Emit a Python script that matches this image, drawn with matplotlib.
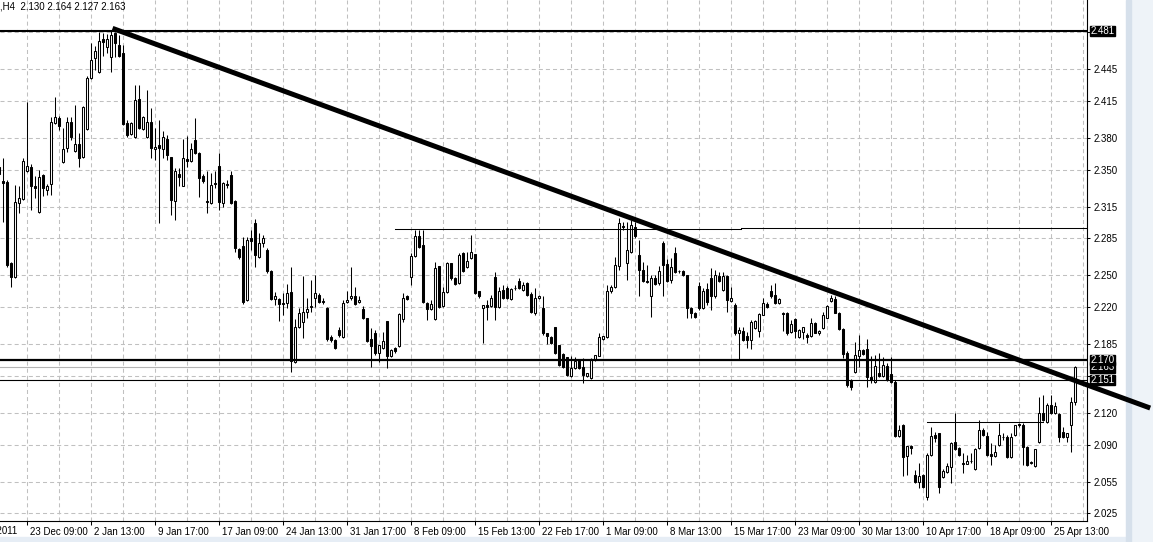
import matplotlib
matplotlib.use("Agg")
import matplotlib.pyplot as plt
import matplotlib.transforms as mtransforms
import numpy as np

plt.rcParams['font.family'] = ['Liberation Sans', 'DejaVu Sans']
plt.rcParams['lines.scale_dashes'] = False

# H4 bars, oldest first (the first bar is half cut by the left edge)
opens = [2.352, 2.339, 2.338, 2.262, 2.248, 2.318, 2.322, 2.349, 2.352, 2.334,
         2.310, 2.345, 2.331, 2.336, 2.394, 2.399, 2.357, 2.370, 2.395, 2.368,
         2.374, 2.362, 2.388, 2.437, 2.455, 2.442, 2.473, 2.466, 2.456, 2.479,
         2.468, 2.460, 2.394, 2.384, 2.381, 2.417, 2.388, 2.381, 2.395, 2.369,
         2.373, 2.369, 2.379, 2.362, 2.320, 2.346, 2.334, 2.360, 2.358, 2.378,
         2.366, 2.344, 2.320, 2.318, 2.337, 2.353, 2.318, 2.336, 2.345, 2.320,
         2.275, 2.278, 2.227, 2.285, 2.299, 2.267, 2.281, 2.274, 2.254, 2.228,
         2.228, 2.224, 2.224, 2.234, 2.168, 2.201, 2.206, 2.215, 2.220, 2.229,
         2.231, 2.226, 2.219, 2.192, 2.189, 2.198, 2.192, 2.225, 2.229, 2.230,
         2.225, 2.218, 2.210, 2.190, 2.195, 2.177, 2.181, 2.207, 2.174, 2.181,
         2.183, 2.209, 2.230, 2.248, 2.268, 2.287, 2.279, 2.224, 2.218, 2.209,
         2.259, 2.221, 2.234, 2.262, 2.247, 2.243, 2.271, 2.258, 2.266, 2.270,
         2.235, 2.219, 2.222, 2.221, 2.248, 2.220, 2.236, 2.238, 2.228, 2.238,
         2.245, 2.236, 2.243, 2.232, 2.214, 2.229, 2.219, 2.195, 2.192, 2.201,
         2.184, 2.176, 2.173, 2.155, 2.162, 2.170, 2.163, 2.155, 2.153, 2.171,
         2.174, 2.190, 2.192, 2.235, 2.239, 2.259, 2.297, 2.262, 2.272, 2.296,
         2.269, 2.255, 2.245, 2.230, 2.247, 2.243, 2.281, 2.261, 2.246, 2.271,
         2.254, 2.254, 2.250, 2.219, 2.214, 2.240, 2.219, 2.237, 2.247, 2.230,
         2.249, 2.236, 2.249, 2.226, 2.222, 2.195, 2.197, 2.193, 2.189, 2.200,
         2.197, 2.212, 2.223, 2.235, 2.231, 2.224, 2.214, 2.214, 2.196, 2.209,
         2.192, 2.196, 2.194, 2.193, 2.205, 2.195, 2.200, 2.210, 2.226, 2.228,
         2.214, 2.199, 2.177, 2.151, 2.159, 2.174, 2.179, 2.180, 2.154, 2.149,
         2.158, 2.155, 2.164, 2.157, 2.149, 2.098, 2.108, 2.079, 2.089, 2.061,
         2.055, 2.061, 2.040, 2.080, 2.099, 2.101, 2.059, 2.064, 2.069, 2.092,
         2.087, 2.073, 2.072, 2.074, 2.067, 2.087, 2.104, 2.098, 2.081, 2.079,
         2.090, 2.097, 2.097, 2.078, 2.099, 2.109, 2.108, 2.088, 2.073, 2.070,
         2.092, 2.120, 2.111, 2.127, 2.120, 2.119, 2.102, 2.097, 2.108, 2.130]
highs = [2.354, 2.361, 2.340, 2.263, 2.335, 2.334, 2.361, 2.414, 2.355, 2.344,
         2.350, 2.346, 2.336, 2.400, 2.419, 2.401, 2.389, 2.400, 2.400, 2.411,
         2.385, 2.410, 2.438, 2.470, 2.467, 2.480, 2.479, 2.478, 2.481, 2.480,
         2.477, 2.468, 2.397, 2.395, 2.430, 2.430, 2.401, 2.425, 2.408, 2.389,
         2.397, 2.386, 2.383, 2.362, 2.351, 2.351, 2.379, 2.382, 2.375, 2.399,
         2.367, 2.346, 2.349, 2.347, 2.349, 2.366, 2.338, 2.340, 2.349, 2.321,
         2.276, 2.286, 2.286, 2.293, 2.303, 2.290, 2.288, 2.276, 2.255, 2.234,
         2.229, 2.233, 2.242, 2.258, 2.209, 2.219, 2.249, 2.229, 2.246, 2.250,
         2.233, 2.229, 2.220, 2.194, 2.190, 2.201, 2.227, 2.235, 2.258, 2.239,
         2.230, 2.221, 2.210, 2.200, 2.198, 2.184, 2.196, 2.207, 2.180, 2.182,
         2.214, 2.233, 2.231, 2.271, 2.293, 2.293, 2.293, 2.225, 2.227, 2.263,
         2.259, 2.239, 2.263, 2.262, 2.248, 2.271, 2.272, 2.272, 2.288, 2.270,
         2.235, 2.222, 2.227, 2.231, 2.253, 2.239, 2.241, 2.240, 2.238, 2.241,
         2.247, 2.244, 2.244, 2.234, 2.238, 2.231, 2.230, 2.195, 2.193, 2.201,
         2.184, 2.177, 2.173, 2.174, 2.173, 2.170, 2.172, 2.158, 2.172, 2.175,
         2.195, 2.193, 2.241, 2.241, 2.267, 2.304, 2.300, 2.300, 2.302, 2.300,
         2.283, 2.263, 2.260, 2.250, 2.250, 2.259, 2.282, 2.265, 2.266, 2.277,
         2.255, 2.255, 2.250, 2.220, 2.215, 2.244, 2.238, 2.243, 2.257, 2.255,
         2.253, 2.253, 2.250, 2.239, 2.224, 2.201, 2.201, 2.196, 2.208, 2.208,
         2.214, 2.229, 2.225, 2.241, 2.243, 2.229, 2.215, 2.215, 2.208, 2.210,
         2.199, 2.201, 2.195, 2.210, 2.206, 2.198, 2.215, 2.222, 2.231, 2.230,
         2.215, 2.200, 2.178, 2.152, 2.187, 2.194, 2.180, 2.190, 2.174, 2.175,
         2.177, 2.173, 2.167, 2.173, 2.151, 2.108, 2.109, 2.089, 2.090, 2.066,
         2.073, 2.062, 2.082, 2.107, 2.102, 2.101, 2.067, 2.073, 2.092, 2.120,
         2.088, 2.082, 2.080, 2.082, 2.087, 2.113, 2.106, 2.102, 2.091, 2.090,
         2.110, 2.101, 2.099, 2.101, 2.108, 2.110, 2.110, 2.089, 2.074, 2.086,
         2.135, 2.137, 2.129, 2.137, 2.130, 2.120, 2.107, 2.101, 2.135, 2.164]
lows = [2.344, 2.300, 2.258, 2.239, 2.247, 2.309, 2.321, 2.348, 2.312, 2.323,
        2.309, 2.325, 2.326, 2.326, 2.393, 2.387, 2.356, 2.367, 2.378, 2.367,
        2.352, 2.361, 2.387, 2.436, 2.444, 2.441, 2.457, 2.460, 2.442, 2.456,
        2.456, 2.392, 2.381, 2.383, 2.380, 2.388, 2.387, 2.380, 2.361, 2.359,
        2.299, 2.361, 2.359, 2.307, 2.302, 2.334, 2.334, 2.352, 2.357, 2.365,
        2.324, 2.337, 2.309, 2.317, 2.333, 2.312, 2.315, 2.333, 2.317, 2.272,
        2.265, 2.223, 2.226, 2.274, 2.258, 2.266, 2.277, 2.252, 2.227, 2.222,
        2.207, 2.212, 2.219, 2.159, 2.167, 2.200, 2.191, 2.210, 2.215, 2.220,
        2.224, 2.223, 2.188, 2.187, 2.180, 2.192, 2.191, 2.224, 2.227, 2.222,
        2.224, 2.209, 2.187, 2.163, 2.175, 2.168, 2.180, 2.162, 2.173, 2.177,
        2.182, 2.206, 2.227, 2.241, 2.267, 2.276, 2.224, 2.208, 2.217, 2.208,
        2.219, 2.220, 2.233, 2.246, 2.241, 2.242, 2.253, 2.257, 2.265, 2.232,
        2.229, 2.186, 2.208, 2.220, 2.208, 2.219, 2.228, 2.228, 2.227, 2.236,
        2.237, 2.235, 2.230, 2.214, 2.212, 2.228, 2.194, 2.185, 2.185, 2.176,
        2.164, 2.162, 2.155, 2.154, 2.161, 2.161, 2.148, 2.154, 2.152, 2.169,
        2.174, 2.189, 2.191, 2.233, 2.238, 2.255, 2.293, 2.246, 2.271, 2.285,
        2.230, 2.244, 2.243, 2.211, 2.241, 2.241, 2.230, 2.244, 2.243, 2.252,
        2.252, 2.249, 2.210, 2.210, 2.210, 2.217, 2.218, 2.222, 2.217, 2.229,
        2.244, 2.235, 2.215, 2.225, 2.194, 2.171, 2.188, 2.181, 2.180, 2.199,
        2.192, 2.212, 2.219, 2.229, 2.223, 2.223, 2.197, 2.194, 2.195, 2.191,
        2.191, 2.190, 2.186, 2.192, 2.195, 2.194, 2.199, 2.210, 2.225, 2.214,
        2.198, 2.172, 2.144, 2.142, 2.158, 2.163, 2.175, 2.144, 2.148, 2.148,
        2.154, 2.154, 2.150, 2.148, 2.097, 2.097, 2.060, 2.061, 2.081, 2.054,
        2.049, 2.049, 2.038, 2.079, 2.092, 2.044, 2.058, 2.063, 2.054, 2.085,
        2.079, 2.063, 2.072, 2.073, 2.066, 2.086, 2.098, 2.079, 2.071, 2.078,
        2.089, 2.094, 2.077, 2.077, 2.098, 2.107, 2.071, 2.070, 2.072, 2.069,
        2.091, 2.112, 2.110, 2.119, 2.119, 2.092, 2.096, 2.092, 2.083, 2.127]
closes = [2.346, 2.337, 2.260, 2.248, 2.319, 2.323, 2.358, 2.353, 2.334, 2.333,
          2.343, 2.333, 2.334, 2.395, 2.400, 2.391, 2.369, 2.395, 2.381, 2.374,
          2.361, 2.409, 2.437, 2.454, 2.462, 2.472, 2.471, 2.473, 2.477, 2.470,
          2.457, 2.393, 2.383, 2.394, 2.416, 2.389, 2.400, 2.395, 2.370, 2.371,
          2.370, 2.381, 2.364, 2.321, 2.349, 2.343, 2.361, 2.358, 2.369, 2.366,
          2.342, 2.339, 2.319, 2.335, 2.336, 2.319, 2.337, 2.335, 2.318, 2.276,
          2.267, 2.225, 2.283, 2.282, 2.269, 2.281, 2.285, 2.254, 2.228, 2.230,
          2.223, 2.223, 2.233, 2.169, 2.201, 2.214, 2.215, 2.218, 2.221, 2.233,
          2.225, 2.225, 2.190, 2.189, 2.181, 2.194, 2.224, 2.227, 2.230, 2.223,
          2.227, 2.210, 2.188, 2.183, 2.177, 2.184, 2.188, 2.174, 2.179, 2.178,
          2.213, 2.229, 2.228, 2.268, 2.287, 2.277, 2.225, 2.218, 2.223, 2.257,
          2.220, 2.234, 2.262, 2.247, 2.242, 2.269, 2.254, 2.264, 2.272, 2.233,
          2.230, 2.222, 2.220, 2.229, 2.220, 2.235, 2.229, 2.229, 2.237, 2.238,
          2.238, 2.241, 2.231, 2.215, 2.229, 2.230, 2.195, 2.193, 2.186, 2.177,
          2.165, 2.163, 2.156, 2.162, 2.169, 2.162, 2.156, 2.158, 2.171, 2.175,
          2.192, 2.193, 2.235, 2.239, 2.260, 2.299, 2.296, 2.274, 2.298, 2.287,
          2.255, 2.245, 2.244, 2.247, 2.242, 2.254, 2.260, 2.245, 2.258, 2.253,
          2.254, 2.250, 2.219, 2.214, 2.211, 2.219, 2.235, 2.225, 2.230, 2.250,
          2.245, 2.249, 2.227, 2.229, 2.195, 2.198, 2.189, 2.189, 2.206, 2.207,
          2.213, 2.224, 2.220, 2.230, 2.224, 2.228, 2.213, 2.195, 2.204, 2.197,
          2.198, 2.201, 2.192, 2.205, 2.195, 2.197, 2.212, 2.221, 2.229, 2.214,
          2.199, 2.176, 2.146, 2.144, 2.175, 2.179, 2.176, 2.154, 2.151, 2.164,
          2.155, 2.165, 2.151, 2.149, 2.098, 2.104, 2.078, 2.089, 2.087, 2.055,
          2.060, 2.050, 2.080, 2.098, 2.096, 2.050, 2.065, 2.070, 2.091, 2.086,
          2.080, 2.072, 2.074, 2.074, 2.086, 2.104, 2.099, 2.080, 2.079, 2.083,
          2.099, 2.097, 2.078, 2.097, 2.108, 2.108, 2.088, 2.071, 2.073, 2.086,
          2.120, 2.113, 2.127, 2.120, 2.126, 2.097, 2.097, 2.101, 2.130, 2.163]

date_labels = ["23 Dec 09:00", "2 Jan 13:00", "9 Jan 17:00", "17 Jan 09:00",
               "24 Jan 13:00", "31 Jan 17:00", "8 Feb 09:00", "15 Feb 13:00",
               "22 Feb 17:00", "1 Mar 09:00", "8 Mar 13:00", "15 Mar 17:00",
               "23 Mar 09:00", "30 Mar 13:00", "10 Apr 17:00", "18 Apr 09:00",
               "25 Apr 13:00"]
price_ticks = [2.480, 2.445, 2.415, 2.380, 2.350, 2.315, 2.285, 2.250,
               2.220, 2.185, 2.155, 2.120, 2.090, 2.055, 2.025]
# these two scale labels sit under the price markers
hidden_ticks = [2.480, 2.155]

# drawn objects
top_level = 2.481
support_thick = 2.170
support_thin = 2.151
bid_price = 2.163
range_top = [2.2934, 2.2943]
april_top = 2.111
trend_start = (27.3, 2.4835)
trend_end = (286.7, 2.1245)
header = ",H4  2.130 2.164 2.127 2.163"

o = np.array(opens)
h = np.array(highs)
l = np.array(lows)
c = np.array(closes)
x = np.arange(len(o)) - 1
up = c >= o

fig = plt.figure(figsize=(11.53, 5.42), dpi=100)

# window frame strips (behind everything)
fig.patches.append(plt.Rectangle((0, 0), 1, 5 / 542, transform=fig.transFigure,
                                 color='#e6edf5', zorder=-5))
fig.patches.append(plt.Rectangle((1131 / 1153, 0), 22 / 1153, 1, transform=fig.transFigure,
                                 color='#eef3f8', zorder=-5))
fig.patches.append(plt.Rectangle((1126 / 1153, 0), 5 / 1153, 1, transform=fig.transFigure,
                                 color='#d6e0eb', zorder=-5))

ax = fig.add_axes([0, 21 / 542, 1087 / 1153, 521 / 542])
ax.set_xlim(-0.83, 270.9)
ax.set_ylim(2.0177, 2.5103)

# grid
grid_kw = dict(color='#c0c0c0', lw=0.75, ls=(0, (2.9, 2.2)), zorder=0)
for gx in range(-2, 272, 8):
    ax.axvline(gx, **grid_kw)
for gy in price_ticks:
    ax.axhline(gy, **grid_kw)

# candles
ax.vlines(x, l, h, color='black', lw=0.75, zorder=2)
body_lo = np.minimum(o, c)
body_h = np.maximum(np.abs(c - o), 0.0003)
ax.bar(x[up], body_h[up], bottom=body_lo[up], width=0.5, color='white',
       edgecolor='black', linewidth=0.75, zorder=3)
ax.bar(x[~up], body_h[~up], bottom=body_lo[~up], width=0.5, color='black',
       edgecolor='black', linewidth=0.75, zorder=3)

# levels
ax.axhline(top_level, color='black', lw=1.5, zorder=4)
ax.axhline(support_thick, color='black', lw=1.6, zorder=4)
ax.axhline(support_thin, color='black', lw=0.8, zorder=4)
ax.axhline(bid_price, color='#b4b4b4', lw=0.8, zorder=1)
ax.plot([97.9, 184.4], [range_top[0]] * 2, color='black', lw=0.75, zorder=4)
ax.plot([184.4, 271], [range_top[1]] * 2, color='black', lw=0.75, zorder=4)
ax.plot([230.9, 259.9], [april_top] * 2, color='black', lw=0.75, zorder=4)
ax.plot([trend_start[0], trend_end[0]], [trend_start[1], trend_end[1]],
        color='black', lw=3.6, solid_capstyle='butt', zorder=5, clip_on=False)

# axes frame
for side in ['top', 'left']:
    ax.spines[side].set_visible(False)
for side in ['right', 'bottom']:
    ax.spines[side].set_linewidth(0.8)

ax.yaxis.tick_right()
ax.set_yticks(price_ticks)
ax.set_yticklabels(['' if v in hidden_ticks else '%.3f' % v for v in price_ticks])
ax.tick_params(axis='y', direction='out', length=2.5, width=0.75, pad=2,
               labelsize=7)

ax.set_xticks([6 + 16 * i for i in range(len(date_labels))])
ax.set_xticklabels(date_labels)
ax.tick_params(axis='x', direction='out', length=3, width=0.75, pad=1.5,
               labelsize=7)
shift = mtransforms.ScaledTranslation(2 / 72, 0, fig.dpi_scale_trans)
for lab in ax.get_xticklabels():
    lab.set_horizontalalignment('left')
    lab.set_transform(lab.get_transform() + shift)

# half-hidden first date label
ax.text(-10, -0.0095, "15 Dec 2011", transform=ax.get_xaxis_transform(),
        fontsize=7, ha='left', va='top', clip_on=False)

# price markers on the scale (bid first so the 2.170 box sits on top)
for price in [bid_price, support_thick, support_thin, top_level]:
    ax.annotate('%.3f' % price, xy=(1, price), xycoords=('axes fraction', 'data'),
                xytext=(2.5, 0), textcoords='offset points', va='center', ha='left',
                fontsize=7, color='white', zorder=10, annotation_clip=False,
                bbox=dict(boxstyle='square,pad=0.02', fc='black', ec='black'))

fig.text(0.0, 1 - 6.5 / 542, header, fontsize=7, ha='left', va='center')

fig.savefig('out.png', dpi=100)
